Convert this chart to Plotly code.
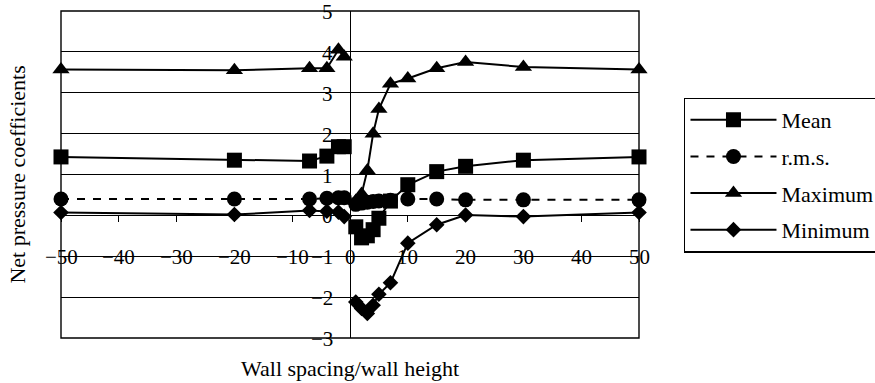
import plotly.graph_objects as go

# Wall spacing / wall height (negative = downstream side); None breaks the line at 0
spacing = [-50, -20, -7, -4, -2, -1, None, 1, 2, 3, 4, 5, 7, 10, 15, 20, 30, 50]

mean_cp = [1.43, 1.35, 1.33, 1.45, 1.68, 1.68, None,
           -0.28, -0.55, -0.50, -0.35, -0.07, 0.35, 0.75, 1.07, 1.20, 1.35, 1.43]
rms_cp = [0.40, 0.40, 0.40, 0.42, 0.43, 0.43, None,
          0.27, 0.30, 0.32, 0.34, 0.35, 0.37, 0.40, 0.40, 0.38, 0.38, 0.38]
max_cp = [3.57, 3.55, 3.60, 3.60, 4.05, 3.88, None,
          0.35, 0.52, 1.10, 2.00, 2.60, 3.22, 3.35, 3.60, 3.75, 3.63, 3.57]
min_cp = [0.07, 0.02, 0.12, 0.10, 0.08, -0.03, None,
          -2.12, -2.28, -2.40, -2.20, -1.93, -1.65, -0.68, -0.23, 0.01, -0.03, 0.07]

series_names = ["Mean", "r.m.s.", "Maximum", "Minimum"]
x_ticks = [-50, -40, -30, -20, -10, 0, 10, 20, 30, 40, 50]
y_ticks = [-3, -2, -1, 0, 1, 2, 3, 4, 5]
x_label_row = -1  # category labels sit on the y = -1 gridline

FONT = "Liberation Serif"
BLACK = "black"


def num_label(v):
    return str(v).replace("-", "\u2212")


fig = go.Figure()

styles = [
    (mean_cp, "square", 15, "solid"),
    (rms_cp, "circle", 15, "8px,8px"),
    (max_cp, "triangle-up", 15, "solid"),
    (min_cp, "diamond", 12, "solid"),
]
for name, (vals, sym, size, dash) in zip(series_names, styles):
    fig.add_trace(go.Scatter(
        x=spacing, y=vals, name=name, mode="lines+markers",
        legendgroup=name,
        line=dict(color=BLACK, width=2, dash=dash),
        marker=dict(symbol=sym, size=size, color=BLACK, line=dict(width=0)),
        cliponaxis=False,
    ))

# Plot area frame
fig.add_shape(type="rect", xref="paper", yref="paper", x0=0, x1=1, y0=0, y1=1,
              line=dict(color=BLACK, width=1.4), layer="above")

# Tick labels: y labels left of the x = 0 axis, x labels centred on the y = -1 line
for v in y_ticks:
    fig.add_annotation(text=num_label(v), x=0, y=v, xref="x", yref="y",
                       xanchor="right", yanchor="middle", xshift=-15, yshift=-1,
                       showarrow=False, font=dict(family=FONT, size=21, color=BLACK))
for v in x_ticks:
    fig.add_annotation(text=num_label(v), x=v, y=x_label_row, xref="x", yref="y",
                       xanchor="center", yanchor="middle", yshift=-1,
                       showarrow=False, font=dict(family=FONT, size=21, color=BLACK))

fig.add_annotation(text="Wall spacing/wall height", xref="paper", yref="paper",
                   x=0.5, y=-0.092, xanchor="center", yanchor="middle",
                   showarrow=False, font=dict(family=FONT, size=22, color=BLACK))
fig.add_annotation(text="Net pressure coefficients", xref="paper", yref="paper",
                   x=-0.076, y=0.5, xanchor="center", yanchor="middle", textangle=-90,
                   showarrow=False, font=dict(family=FONT, size=22, color=BLACK))

fig.update_layout(
    width=875, height=383,
    margin=dict(l=61, r=236, t=11, b=45, autoexpand=False),
    paper_bgcolor="white", plot_bgcolor="white",
    font=dict(family=FONT, size=21, color=BLACK),
    xaxis=dict(
        range=[-50, 50], tickvals=x_ticks, anchor="free", position=0.375,
        showgrid=False, zeroline=False, showline=False, showticklabels=False,
        ticks="outside", ticklen=6, tickwidth=1.4, tickcolor=BLACK,
    ),
    yaxis=dict(
        range=[-3, 5], tickvals=y_ticks, anchor="free", position=0.5,
        showgrid=True, gridcolor=BLACK, gridwidth=1.4,
        zeroline=False, showline=True, linecolor=BLACK, linewidth=1.4,
        ticks="", showticklabels=False,
    ),
    showlegend=True,
    legend=dict(
        x=1.078, xanchor="left", y=0.735, yanchor="top",
        bordercolor=BLACK, borderwidth=1.4, bgcolor="white",
        font=dict(family=FONT, size=22, color=BLACK),
        itemwidth=86, tracegroupgap=5, traceorder="grouped",
    ),
)

fig.write_html("out.html")
